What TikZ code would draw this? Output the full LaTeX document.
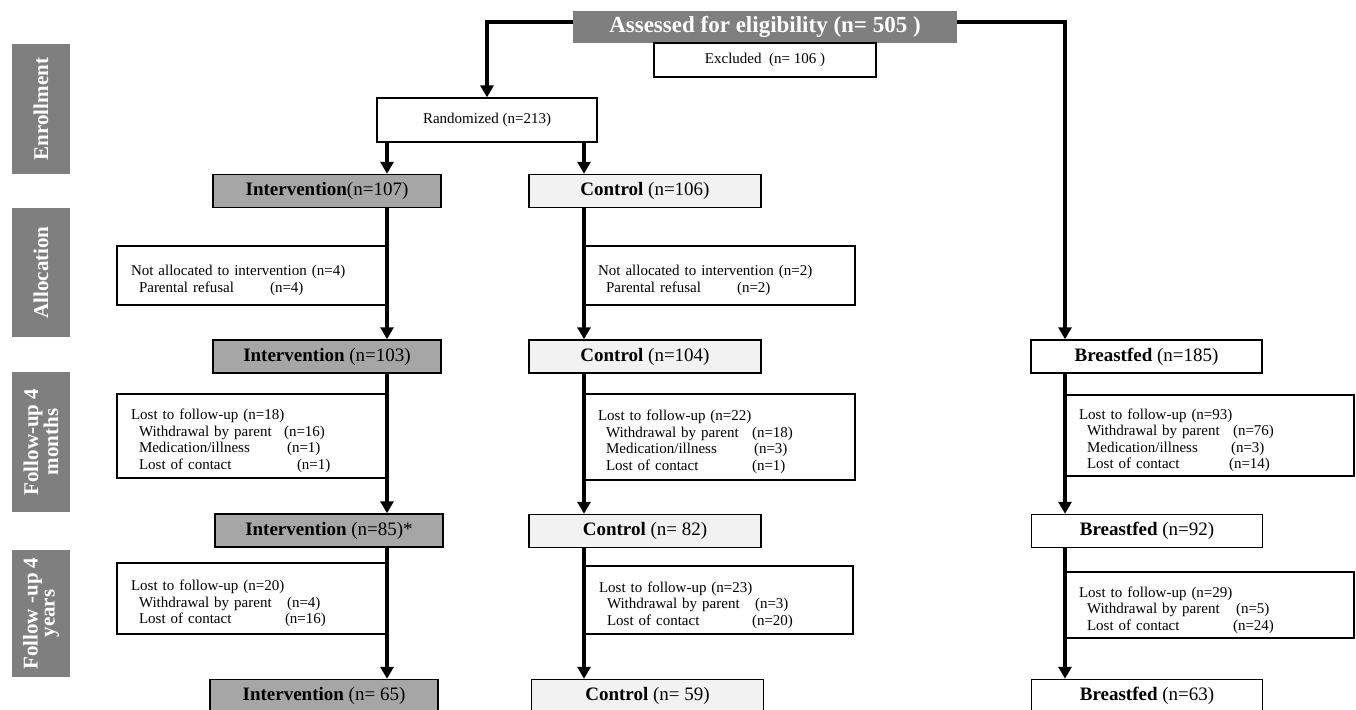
\documentclass[tikz,border=0pt]{standalone}
\usepackage{fontspec}
\setmainfont{Liberation Serif}
\usepackage{tikz}
\usetikzlibrary{arrows.meta}
\definecolor{phasegray}{HTML}{7F7F7F}
\definecolor{intgray}{HTML}{A6A6A6}
\definecolor{ctlgray}{HTML}{F2F2F2}
\newcommand{\notrow}[3]{\hspace*{8pt}\makebox[#1pt][l]{#2}#3}
\tikzset{
 grp/.style={draw, line width=1.5pt, minimum height=33pt, inner sep=0pt, font=\fontsize{19}{22}\selectfont},
 intv/.style={grp, fill=intgray, minimum width=228pt},
 ctl/.style={grp, fill=ctlgray, minimum width=232pt},
 bf/.style={grp, fill=white, minimum width=231pt},
 note/.style={draw, line width=1.3pt, fill=white, align=left, inner xsep=14pt, inner ysep=0pt, font=\fontsize{15}{16.5}\selectfont, execute at begin node=\rule{0pt}{20.5pt}},
 phase/.style={fill=phasegray, text=white, rotate=90, align=center, minimum height=58pt, inner sep=0pt, font=\fontsize{21}{17}\selectfont\bfseries},
 arr/.style={line width=3.2pt, -{Triangle[length=12pt,width=13pt]}}
}

\begin{document}
\begin{tikzpicture}[x=1pt,y=-1pt]
\clip (0,0) rectangle (1356,709);
\foreach \y/\h/\lbl [count=\i] in {109/130/Enrollment, 272.5/129/Allocation, 442/140/{Follow-up 4\\months}, 613.5/127/{Follow -up 4\\years}}
 \node[phase, minimum width=\h pt] (ph\i) at (41,\y) {\lbl};
\node[fill=phasegray, text=white, minimum width=384pt, minimum height=32pt, inner sep=0pt, font=\fontsize{23}{26}\selectfont\bfseries] (as) at (765,27) {Assessed for eligibility (n= 505 )};
\node[draw, line width=1.3pt, fill=white, minimum width=222pt, minimum height=34pt, inner sep=0pt, font=\fontsize{15}{17}\selectfont] (ex) at (765,60) {Excluded\ \ (n= 106 )};
\node[draw, line width=1.3pt, minimum width=220pt, minimum height=44pt, inner sep=0pt, font=\fontsize{15}{17}\selectfont] (rand) at (487,120) {Randomized (n=213)};
\coordinate (cA) at (387,0);
\coordinate (cB) at (584,0);
\coordinate (cC) at (1065,0);

\node[intv] (int1) at (327,191) {\textbf{Intervention}(n=107)};
\node[intv] (int2) at (327,356.5) {\textbf{Intervention} (n=103)};
\node[intv] (int3) at (329,530.5) {\textbf{Intervention} (n=85)*};
\node[intv] (int4) at (324,696) {\textbf{Intervention} (n= 65)};
\node[ctl] (ctl1) at (645,191) {\textbf{Control} (n=106)};
\node[ctl] (ctl2) at (645,356.5) {\textbf{Control} (n=104)};
\node[ctl] (ctl3) at (645,531) {\textbf{Control} (n= 82)};
\node[ctl] (ctl4) at (647.5,696) {\textbf{Control} (n= 59)};
\node[bf] (bf1) at (1146.5,356.5) {\textbf{Breastfed} (n=185)};
\node[bf] (bf2) at (1147,531) {\textbf{Breastfed} (n=92)};
\node[bf] (bf3) at (1147,696) {\textbf{Breastfed} (n=63)};

\node[note, text width=242pt, minimum height=59pt] (nA1) at (252,275.5) {Not allocated to intervention (n=4)\\ \notrow{131}{Parental refusal}{(n=4)}};
\node[note, text width=242pt, minimum height=84pt] (nA2) at (252,436) {Lost to follow-up (n=18)\\ \notrow{145}{Withdrawal by parent}{(n=16)}\\ \notrow{148}{Medication/illness}{(n=1)}\\ \notrow{158}{Lost of contact}{(n=1)}};
\node[note, text width=242pt, minimum height=71pt] (nA3) at (252,598.5) {Lost to follow-up (n=20)\\ \notrow{148}{Withdrawal by parent}{(n=4)}\\ \notrow{146}{Lost of contact}{(n=16)}};
\node[note, text width=243pt, minimum height=59pt] (nB1) at (719.5,275.5) {Not allocated to intervention (n=2)\\ \notrow{131}{Parental refusal}{(n=2)}};
\node[note, text width=243pt, minimum height=86pt] (nB2) at (719.5,437) {Lost to follow-up (n=22)\\ \notrow{146}{Withdrawal by parent}{(n=18)}\\ \notrow{148}{Medication/illness}{(n=3)}\\ \notrow{146}{Lost of contact}{(n=1)}};
\node[note, text width=240pt, minimum height=68pt] (nB3) at (719,600) {Lost to follow-up (n=23)\\ \notrow{148}{Withdrawal by parent}{(n=3)}\\ \notrow{145}{Lost of contact}{(n=20)}};
\node[note, text width=261pt, minimum height=81pt] (nC1) at (1209.5,435.5) {Lost to follow-up (n=93)\\ \notrow{146}{Withdrawal by parent}{(n=76)}\\ \notrow{144}{Medication/illness}{(n=3)}\\ \notrow{142}{Lost of contact}{(n=14)}};
\node[note, text width=261pt, minimum height=66pt] (nC2) at (1209.5,605) {Lost to follow-up (n=29)\\ \notrow{149}{Withdrawal by parent}{(n=5)}\\ \notrow{146}{Lost of contact}{(n=24)}};

\draw[arr] ([yshift=5pt]as.west) -| (rand.north);
\draw[arr] ([yshift=5pt]as.east) -| (cC |- bf1.north);
\draw[arr] (rand.south -| cA) -- (int1.north -| cA);
\draw[arr] (rand.south -| cB) -- (ctl1.north -| cB);
\foreach \a/\b/\c in {int1/int2/cA, int2/int3/cA, int3/int4/cA, ctl1/ctl2/cB, ctl2/ctl3/cB, ctl3/ctl4/cB, bf1/bf2/cC, bf2/bf3/cC}
 \draw[arr] (\a.south -| \c) -- (\b.north -| \c);
\end{tikzpicture}
\end{document}
